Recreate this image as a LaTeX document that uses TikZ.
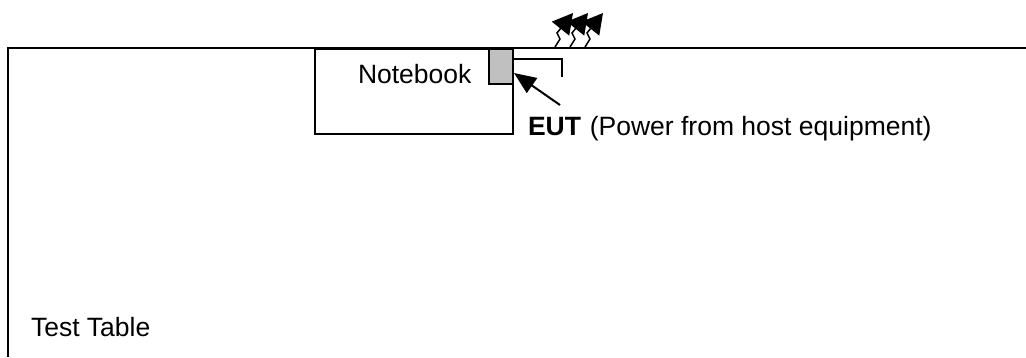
\documentclass[tikz,border=0pt]{standalone}
\usepackage{fontspec}
\setmainfont{Liberation Sans}
\usetikzlibrary{positioning,arrows.meta}
\definecolor{eutgray}{RGB}{192,192,192}

\begin{document}
\begin{tikzpicture}[x=1pt, y=-1pt, line width=2pt, >={Triangle[length=22pt,width=18pt]},
    txt/.style={anchor=base west, inner sep=0pt, font=\fontsize{26.5}{32}\selectfont}]
        \useasboundingbox (0,0) rectangle (1026,357);

        % Test table
        \draw (1026,48) -- (8,48) -- (8,357);
        \node[txt] (tablelabel) at (30,336) {Test Table};

        % Notebook and EUT
        \node[draw, fill=white, anchor=north west, minimum width=198pt, minimum height=85pt, inner sep=0pt] (notebook) at (314,48) {};
        \node[txt] (notebooklabel) at (357,83) {Notebook};
        \node[draw, fill=eutgray, anchor=north east, minimum width=24pt, minimum height=35pt, inner sep=0pt] (eut) at (notebook.north east) {};

        % Cable bracket
        \coordinate (bend) at (562,59);
        \draw (eut.east |- bend) -- (bend) -- ++(0,18);

        % Label and arrow
        \node[txt] (eutlabel) at (527,135) {\textbf{EUT}\hspace{1.5pt} (Power from host equipment)};
        \coordinate (tail) at (560,105);
        \draw[->] (tail) -- ([yshift=-6.5pt]eut.east);

        % Radiation
        \foreach \x in {555,570,585}
            \draw[-{Triangle[length=20pt,width=22pt]}, line width=1.5pt] (\x,47) -- ++(5,-8) -- ++(-3,-6) -- ++(16,-20);
    \end{tikzpicture}
\end{document}
